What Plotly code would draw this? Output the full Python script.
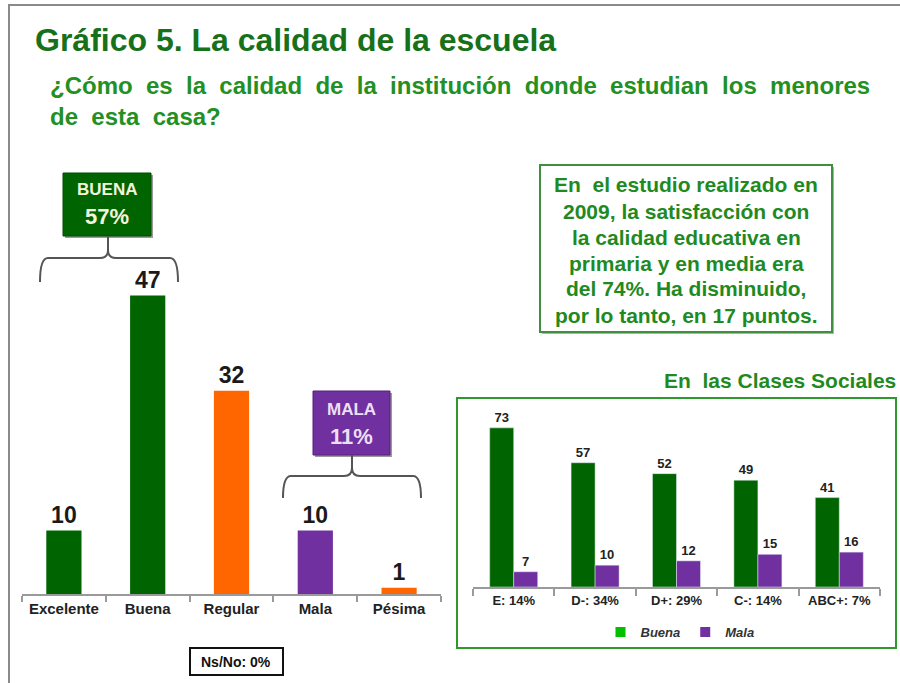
import plotly.graph_objects as go

# ---- data ----
categories = ["Excelente", "Buena", "Regular", "Mala", "Pésima"]
values = [10, 47, 32, 10, 1]
bar_colors = ["#006400", "#006400", "#ff6600", "#7030a0", "#ff6600"]

clases = ["E: 14%", "D-: 34%", "D+: 29%", "C-: 14%", "ABC+: 7%"]
clase_buena = [73, 57, 52, 49, 41]
clase_mala = [7, 10, 12, 15, 16]

W, H = 900, 683
def fx(x): return x / W
def fy(y): return 1 - y / H

GREEN = "#006400"
PURPLE = "#7030a0"
FONT = "Liberation Sans, Arial, sans-serif"

fig = go.Figure()

fig.add_trace(go.Bar(
    x=categories, y=values, width=0.42,
    marker=dict(color=bar_colors, line=dict(width=0)),
    text=[str(v) for v in values], textposition="outside", cliponaxis=False,
    textfont=dict(family=FONT, size=23, color="#1a1a1a", weight="bold"),
    showlegend=False, xaxis="x", yaxis="y", hoverinfo="skip"))

fig.add_trace(go.Bar(
    x=clases, y=clase_buena, name="Buena", marker=dict(color=GREEN),
    text=[str(v) for v in clase_buena], textposition="outside", cliponaxis=False,
    textfont=dict(family=FONT, size=13, color="#222", weight="bold"),
    showlegend=False, xaxis="x2", yaxis="y2"))
fig.add_trace(go.Bar(
    x=clases, y=clase_mala, name="Mala", marker=dict(color=PURPLE),
    text=[str(v) for v in clase_mala], textposition="outside", cliponaxis=False,
    textfont=dict(family=FONT, size=13, color="#222", weight="bold"),
    showlegend=False, xaxis="x2", yaxis="y2"))
# legend entries
fig.add_trace(go.Scatter(x=[None], y=[None], mode="markers", name="Buena",
                         marker=dict(symbol="square", size=10, color="#00c000"),
                         xaxis="x2", yaxis="y2"))
fig.add_trace(go.Scatter(x=[None], y=[None], mode="markers", name="Mala",
                         marker=dict(symbol="square", size=10, color=PURPLE),
                         xaxis="x2", yaxis="y2"))

fig.update_layout(
    width=W, height=H, margin=dict(l=0, r=0, t=0, b=0),
    paper_bgcolor="white", plot_bgcolor="rgba(0,0,0,0)",
    barmode="group", bargap=0.41,
    xaxis=dict(domain=[fx(22), fx(441)], showline=True, linecolor="#9a9a9a", linewidth=2,
               ticks="outside", tickson="boundaries", ticklen=6, tickcolor="#9a9a9a",
               tickwidth=2, showgrid=False,
               tickfont=dict(family=FONT, size=15, color="#222", weight="bold"),
               fixedrange=True),
    yaxis=dict(domain=[fy(594), fy(150)], range=[0, 444 / 6.35], visible=False,
               fixedrange=True),
    xaxis2=dict(domain=[fx(473), fx(880)], anchor="y2", showline=True, linecolor="#9a9a9a",
                linewidth=2, ticks="outside", tickson="boundaries", ticklen=7,
                tickcolor="#9a9a9a", tickwidth=2, showgrid=False,
                tickfont=dict(family=FONT, size=13, color="#222", weight="bold"),
                fixedrange=True),
    yaxis2=dict(domain=[fy(587), fy(405)], range=[0, 182 / 2.18], visible=False,
                anchor="x2", fixedrange=True),
    legend=dict(orientation="h", x=fx(680), y=fy(632), xanchor="center", yanchor="middle",
                font=dict(family=FONT, size=13, color="#333", style="italic", weight="bold"),
                bgcolor="rgba(0,0,0,0)", itemwidth=30, tracegroupgap=0),
)

shapes = []
# frame
shapes.append(dict(type="line", xref="paper", yref="paper", x0=fx(8), x1=1, y0=fy(5), y1=fy(5),
                   line=dict(color="#8a8a8a", width=2)))
shapes.append(dict(type="line", xref="paper", yref="paper", x0=fx(9), x1=fx(9), y0=fy(5), y1=0,
                   line=dict(color="#8a8a8a", width=2)))

def rect(x0, y0, x1, y1, fill, line, lw):
    return dict(type="rect", xref="paper", yref="paper", x0=fx(x0), x1=fx(x1), y0=fy(y1), y1=fy(y0),
                fillcolor=fill, line=dict(color=line, width=lw), layer="above")

def P(x, y):
    return f"{fx(x):.5f},{fy(y):.5f}"

def bracket(xl, xr, xs, yh, ybot, ytop):
    r = 8
    path = (f"M {P(xl, ybot)} Q {P(xl, yh)} {P(xl + r, yh)} L {P(xs - r, yh)} "
            f"Q {P(xs, yh)} {P(xs, yh - r)} L {P(xs, ytop)} "
            f"M {P(xs, yh - r)} Q {P(xs, yh)} {P(xs + r, yh)} L {P(xr - r, yh)} "
            f"Q {P(xr, yh)} {P(xr, ybot)}")
    return dict(type="path", xref="paper", yref="paper", path=path,
                line=dict(color="#555", width=2))

# shadows + boxes
shapes.append(rect(65, 175, 153, 238, "#9a9a9a", "#9a9a9a", 0))
shapes.append(rect(63, 173, 151, 236, GREEN, "#004d00", 1))
shapes.append(bracket(40, 178, 108, 258, 282, 236))
shapes.append(rect(315, 393, 392, 457, "#9a9a9a", "#9a9a9a", 0))
shapes.append(rect(313, 391, 390, 455, PURPLE, "#55207a", 1))
shapes.append(bracket(283, 421, 352, 476, 498, 455))
shapes.append(rect(190, 648, 283, 675, "white", "#111", 2))
shapes.append(rect(542, 167, 834, 334, "#b0b0b0", "#b0b0b0", 0))
shapes.append(rect(540, 165, 832, 332, "white", "#3f8f3f", 2))
shapes.append(rect(457, 398, 896, 648, "rgba(0,0,0,0)", "#2e9a2e", 2))

fig.update_layout(shapes=shapes)

ann = []
def text(x, y, s, size, color, xanchor="left", family=FONT, weight="bold"):
    ann.append(dict(xref="paper", yref="paper", x=fx(x), y=fy(y), text=s, showarrow=False,
                    xanchor=xanchor, yanchor="middle",
                    font=dict(family=family, size=size, color=color, weight=weight)))

S = "&nbsp; "
text(33, 40, "Gráfico 5. La calidad de la escuela", 32, "#17701a")
text(48, 85, S.join(["¿Cómo", "es", "la", "calidad", "de", "la", "institución", "donde",
                     "estudian", "los", "menores"]), 24, "#229022")
text(48, 116, S.join(["de", "esta", "casa?"]), 24, "#229022")

text(107, 190, "BUENA", 17, "#f4f4dc", xanchor="center")
text(107, 217, "57%", 22, "#f4f4dc", xanchor="center")
text(351, 409, "MALA", 17, "#ecdff5", xanchor="center")
text(351, 436, "11%", 22, "#ecdff5", xanchor="center")
text(236, 662, "Ns/No: 0%", 14, "#111", xanchor="center")

box_lines = ["En&nbsp; el estudio realizado en", "2009, la satisfacción con",
             "la calidad educativa en", "primaria y en media era",
             "del 74%. Ha disminuido,", "por lo tanto, en 17 puntos."]
for i, s in enumerate(box_lines):
    text(686, 185 + i * 26, s, 21, "#1f8a1f", xanchor="center")

text(898, 380, "En&nbsp; las Clases Sociales", 21, "#1f8a1f", xanchor="right")

fig.update_layout(annotations=ann)

fig.write_html("out.html", config={"displayModeBar": False},
               post_script="document.body.style.margin='0px';document.body.style.overflow='hidden';")
